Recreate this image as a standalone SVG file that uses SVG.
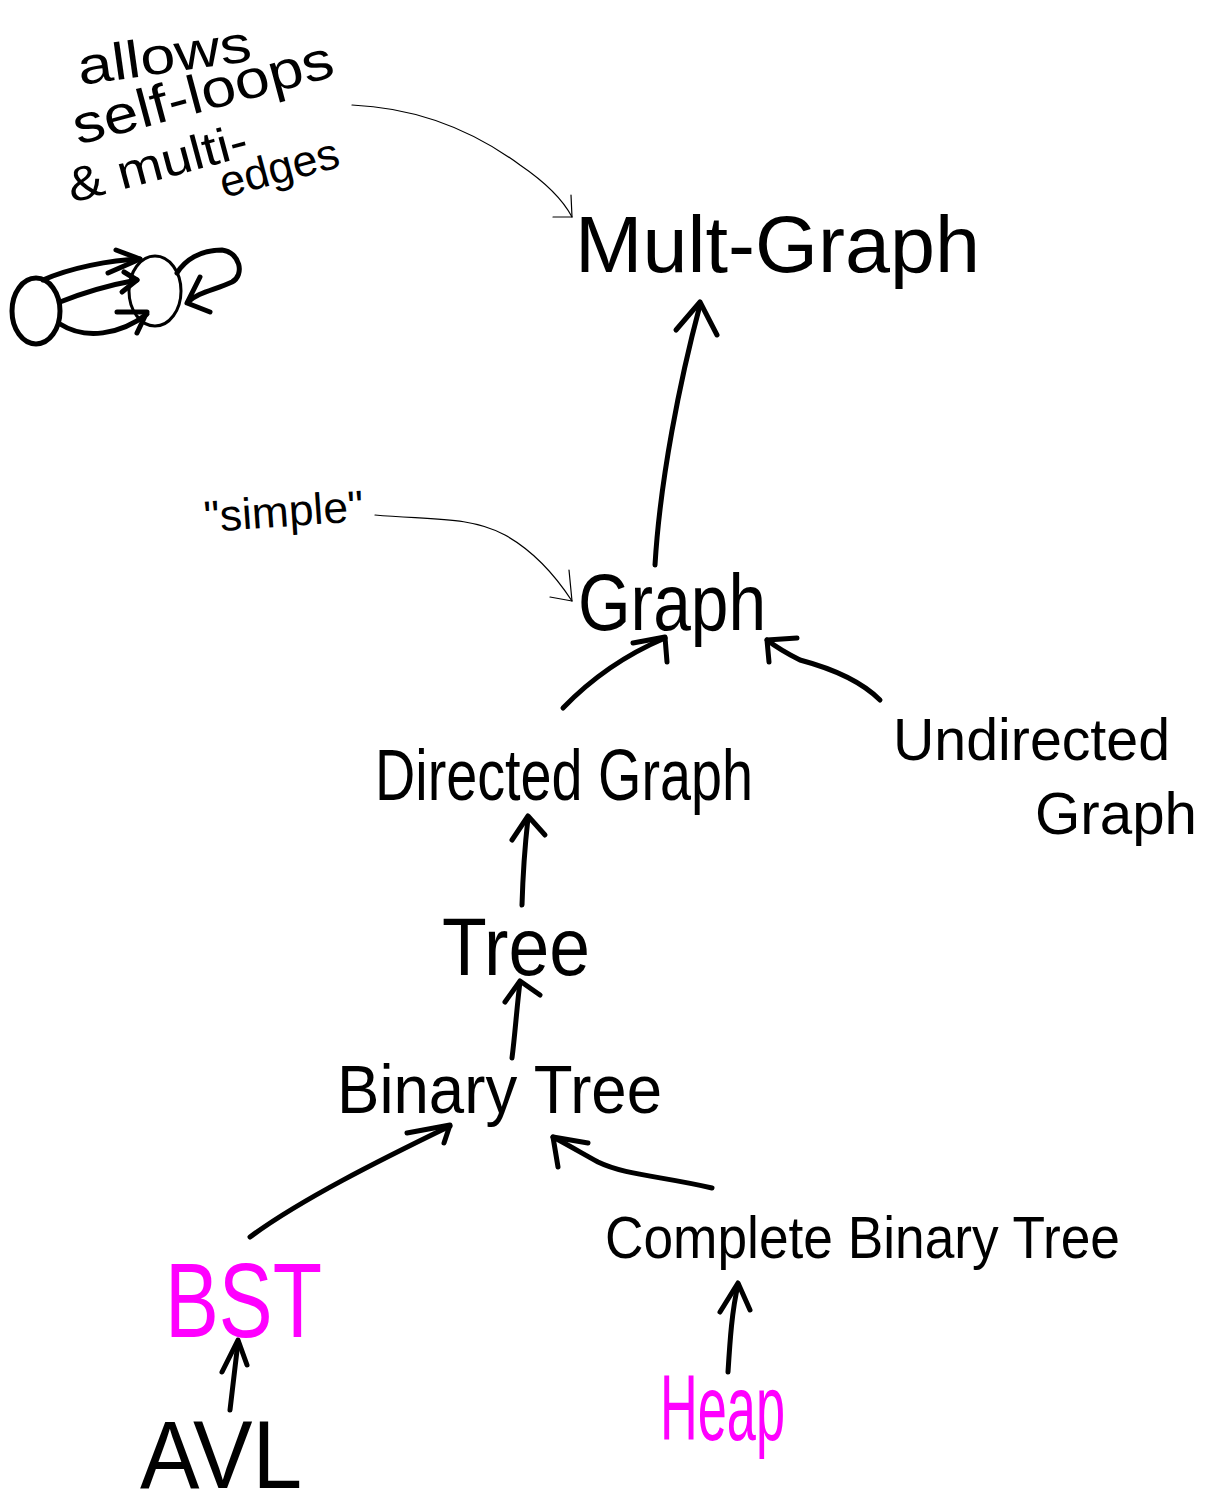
<svg xmlns="http://www.w3.org/2000/svg" width="1208" height="1509" viewBox="0 0 1208 1509">
<style>
text{font-family:"Liberation Sans","DejaVu Sans",sans-serif;fill:#000}
.m{fill:#ff00ff}
.thick{fill:none;stroke:#000;stroke-width:5;stroke-linecap:round;stroke-linejoin:round}
.thin{fill:none;stroke:#000;stroke-width:1.2;stroke-linecap:round;stroke-linejoin:round}
</style>
<rect width="1208" height="1509" fill="#fff"/>
<g id="note-multi">
<text x="80" y="85" font-size="52" textLength="175" lengthAdjust="spacingAndGlyphs" transform="rotate(-8 80 85)">allows</text>
<text x="78" y="145" font-size="54" textLength="268" lengthAdjust="spacingAndGlyphs" transform="rotate(-15 78 145)">self-loops</text>
<text x="72" y="203" font-size="48" textLength="185" lengthAdjust="spacingAndGlyphs" transform="rotate(-15 72 203)">&amp; multi-</text>
<text x="224" y="198" font-size="44" textLength="122" lengthAdjust="spacingAndGlyphs" transform="rotate(-15 224 198)">edges</text>
</g>
<g id="example-multigraph" class="thick">
<ellipse cx="36" cy="311" rx="24" ry="33"/>
<ellipse cx="155" cy="291" rx="26" ry="35" stroke-width="3"/>
<path d="M43,280 C70,268 110,260 140,259"/>
<path d="M116,250 L140,259 L108,273"/>
<path d="M60,302 C85,292 115,284 137,280"/>
<path d="M124,272 L137,280 L122,292"/>
<path d="M60,324 C85,340 120,335 147,314"/>
<path d="M117,312 L147,312 L137,333"/>
<path d="M177,273 C185,260 200,250 222,250 C240,252 245,275 232,282 C215,290 198,292 188,302"/>
<path d="M200,277 L187,303 L210,312"/>
</g>
<g id="node-multgraph">
<text x="575" y="272" font-size="80" textLength="405" lengthAdjust="spacingAndGlyphs">Mult-Graph</text>
</g>
<g id="note-simple">
<text x="205" y="532" font-size="44" textLength="160" lengthAdjust="spacingAndGlyphs" transform="rotate(-4 205 532)">"simple"</text>
</g>
<g id="node-graph">
<text x="578" y="630" font-size="80" textLength="188" lengthAdjust="spacingAndGlyphs">Graph</text>
</g>
<g id="node-directed-graph">
<text x="375" y="800" font-size="72" textLength="378" lengthAdjust="spacingAndGlyphs">Directed Graph</text>
</g>
<g id="node-undirected-graph">
<text x="893" y="760" font-size="60" textLength="277" lengthAdjust="spacingAndGlyphs">Undirected</text>
<text x="1035" y="834" font-size="60" textLength="162" lengthAdjust="spacingAndGlyphs">Graph</text>
</g>
<g id="node-tree">
<text x="442" y="975" font-size="82" textLength="148" lengthAdjust="spacingAndGlyphs">Tree</text>
</g>
<g id="node-binary-tree">
<text x="337" y="1113" font-size="68" textLength="325" lengthAdjust="spacingAndGlyphs">Binary Tree</text>
</g>
<g id="node-complete-binary-tree">
<text x="605" y="1258" font-size="60" textLength="515" lengthAdjust="spacingAndGlyphs">Complete Binary Tree</text>
</g>
<g id="node-bst">
<text class="m" x="165" y="1337" font-size="105" textLength="157" lengthAdjust="spacingAndGlyphs">BST</text>
</g>
<g id="node-avl">
<text x="140" y="1488" font-size="96" textLength="162" lengthAdjust="spacingAndGlyphs">AVL</text>
</g>
<g id="node-heap">
<text class="m" x="660" y="1440" font-size="92" textLength="125" lengthAdjust="spacingAndGlyphs">Heap</text>
</g>
<g id="connectors">
<path class="thin" d="M352,105 C420,108 475,132 520,165 C545,182 562,198 572,217"/>
<path class="thin" d="M553,217 L572,217 L571,195"/>
<path class="thin" d="M375,515 C430,520 470,516 505,535 C532,550 555,575 572,601"/>
<path class="thin" d="M550,597 L572,601 L569,570"/>
<path class="thick" d="M655,565 C660,480 680,380 700,305"/>
<path class="thick" d="M676,330 L700,302 L717,335"/>
<path class="thick" d="M563,708 C590,680 625,655 665,638"/>
<path class="thick" d="M633,643 L665,637 L667,662"/>
<path class="thick" d="M880,700 C860,680 830,668 800,660 C790,655 780,650 767,640"/>
<path class="thick" d="M797,638 L767,640 L769,662"/>
<path class="thick" d="M522,905 C523,870 525,845 528,818"/>
<path class="thick" d="M512,840 L528,816 L545,835"/>
<path class="thick" d="M512,1058 C515,1035 517,1005 520,982"/>
<path class="thick" d="M505,1002 L520,981 L540,995"/>
<path class="thick" d="M250,1237 C300,1200 380,1160 450,1126"/>
<path class="thick" d="M407,1133 L450,1125 L444,1143"/>
<path class="thick" d="M712,1188 C660,1176 625,1175 598,1162 C580,1152 568,1145 553,1137"/>
<path class="thick" d="M588,1143 L553,1137 L558,1167"/>
<path class="thick" d="M230,1410 L238,1342"/>
<path class="thick" d="M222,1372 L238,1340 L247,1365"/>
<path class="thick" d="M728,1372 C730,1340 732,1310 738,1285"/>
<path class="thick" d="M720,1312 L738,1283 L750,1310"/>
</g>
</svg>
